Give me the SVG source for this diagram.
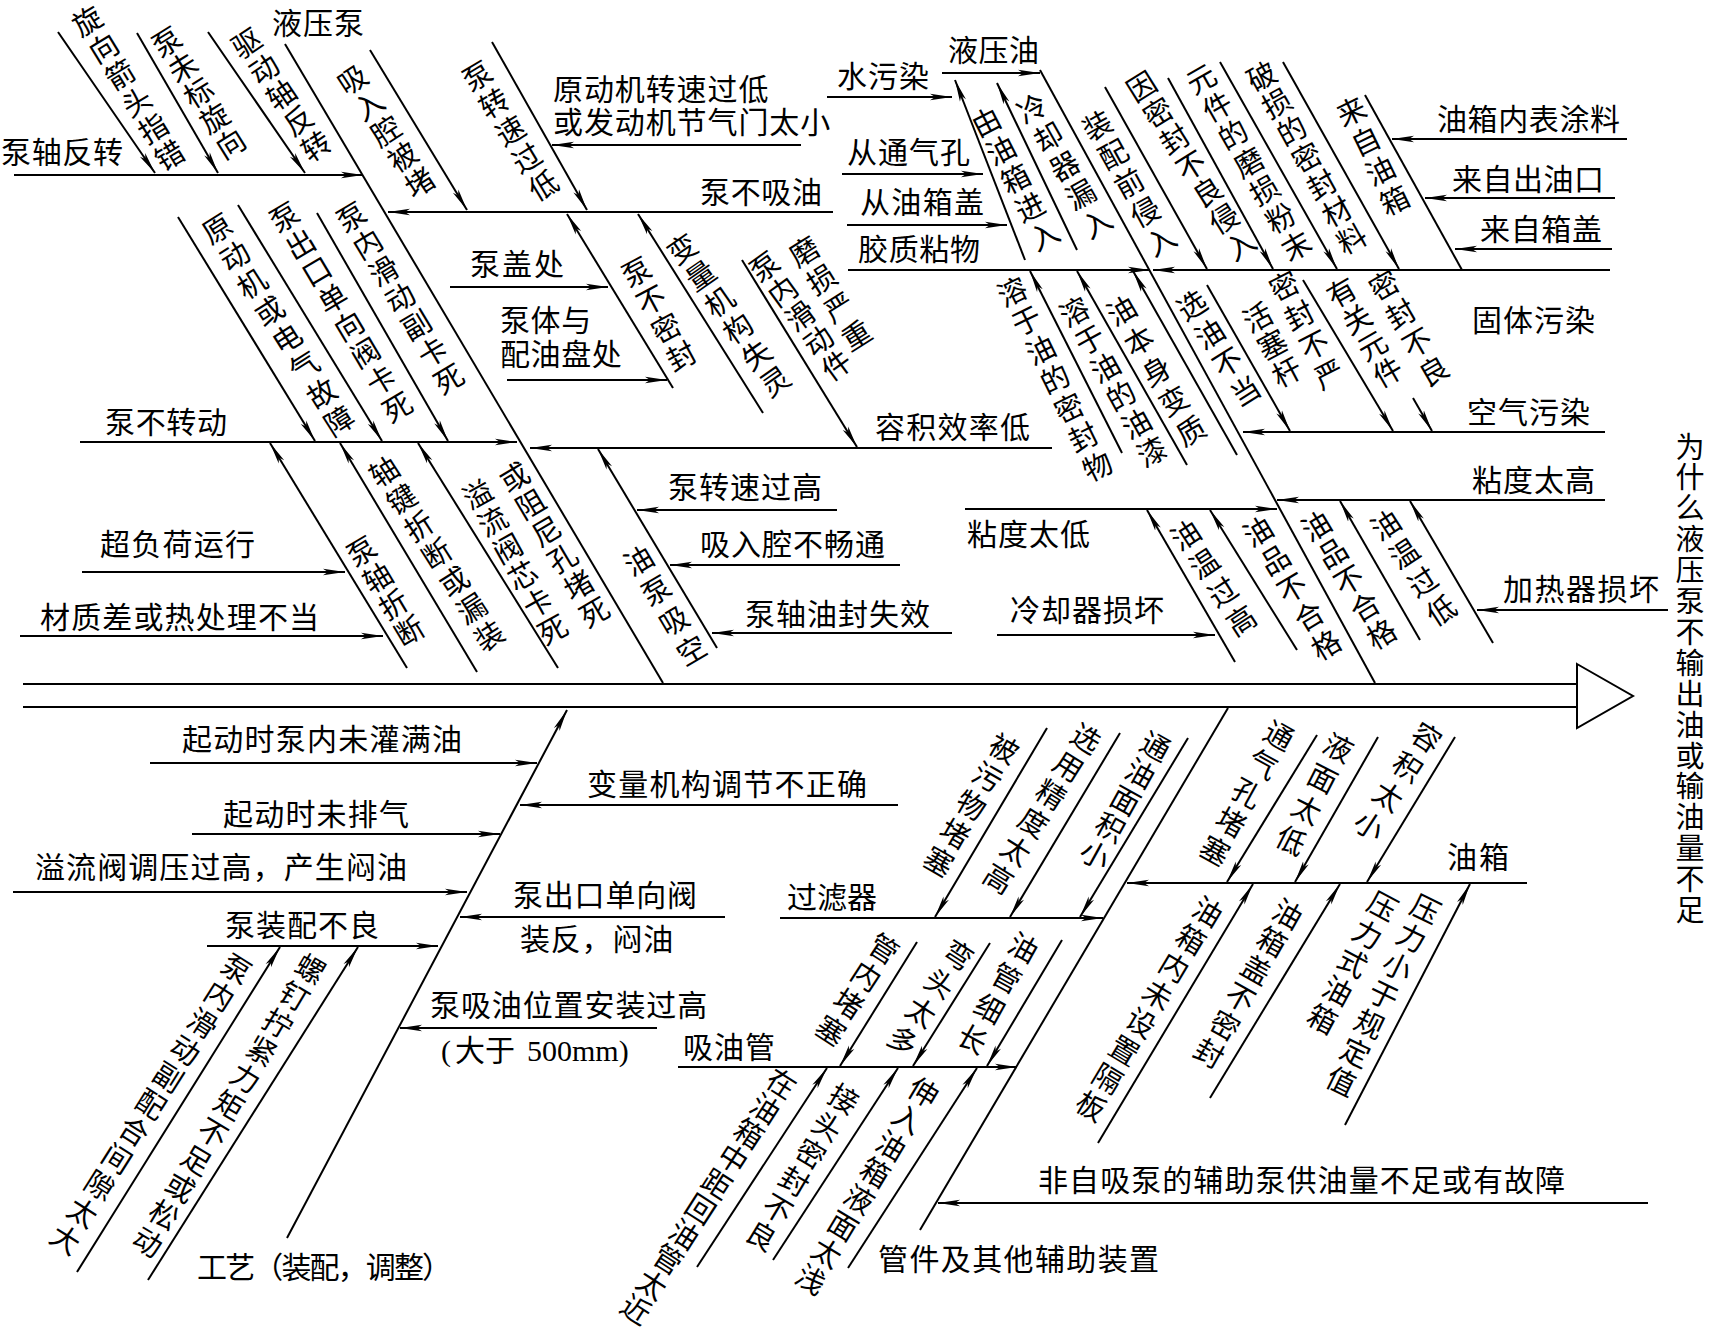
<svg xmlns="http://www.w3.org/2000/svg" width="1713" height="1340" viewBox="0 0 1713 1340">
<style>
.t{font-family:"Noto Sans CJK SC","Noto Sans CJK JP",sans-serif;font-size:30px;fill:#000}
.v{font-family:"Noto Sans CJK SC","Noto Sans CJK JP",sans-serif;font-size:29px;fill:#000;writing-mode:vertical-rl}
.l{stroke:#000;stroke-width:2;fill:none}
.a{stroke:#000;stroke-width:2;fill:none;marker-end:url(#ah)}
</style>
<defs>
<marker id="ah" viewBox="0 0 22 8" refX="22" refY="4" markerWidth="22" markerHeight="8" markerUnits="userSpaceOnUse" orient="auto"><path d="M0,0.8 L22,4 L0,7.2 L5,4 z" fill="#000"/></marker>
</defs>
<rect width="1713" height="1340" fill="#fff"/>
<g id="spine">
<line class="l" x1="23" y1="684" x2="1577" y2="684" stroke-width="2.5"/>
<line class="l" x1="23" y1="707" x2="1577" y2="707" stroke-width="2.5"/>
<polygon points="1577,664 1633,696 1577,728" fill="#fff" stroke="#000" stroke-width="2"/>
</g>
<g id="connectors">
<line class="l" x1="285" y1="44" x2="663" y2="683"/>
<line class="l" x1="1040" y1="70" x2="1375" y2="683"/>
<line class="a" x1="287" y1="1238" x2="567" y2="710"/>
<line class="l" x1="920" y1="1230" x2="1228" y2="708"/>
<line class="a" x1="14" y1="175" x2="363" y2="175"/>
<line class="a" x1="833" y1="212" x2="388" y2="212"/>
<line class="a" x1="801" y1="145" x2="552" y2="145"/>
<line class="a" x1="450" y1="287" x2="608" y2="287"/>
<line class="a" x1="507" y1="380" x2="667" y2="380"/>
<line class="a" x1="80" y1="442" x2="517" y2="442"/>
<line class="a" x1="1052" y1="448" x2="530" y2="448"/>
<line class="a" x1="82" y1="572" x2="345" y2="572"/>
<line class="a" x1="20" y1="636" x2="383" y2="636"/>
<line class="a" x1="837" y1="510" x2="637" y2="510"/>
<line class="a" x1="900" y1="565" x2="670" y2="565"/>
<line class="a" x1="952" y1="633" x2="712" y2="633"/>
<line class="a" x1="827" y1="97" x2="952" y2="97"/>
<line class="a" x1="942" y1="73" x2="1040" y2="73"/>
<line class="a" x1="842" y1="174" x2="983" y2="174"/>
<line class="a" x1="847" y1="225" x2="1007" y2="225"/>
<line class="a" x1="848" y1="270" x2="1150" y2="270"/>
<line class="a" x1="1610" y1="270" x2="1153" y2="270"/>
<line class="a" x1="1627" y1="139" x2="1392" y2="139"/>
<line class="a" x1="1615" y1="198" x2="1425" y2="198"/>
<line class="a" x1="1612" y1="249" x2="1455" y2="249"/>
<line class="a" x1="1605" y1="432" x2="1243" y2="432"/>
<line class="a" x1="1605" y1="500" x2="1277" y2="500"/>
<line class="a" x1="965" y1="509" x2="1277" y2="509"/>
<line class="a" x1="1668" y1="610" x2="1477" y2="610"/>
<line class="a" x1="997" y1="635" x2="1215" y2="635"/>
<line class="a" x1="150" y1="763" x2="537" y2="763"/>
<line class="a" x1="898" y1="805" x2="520" y2="805"/>
<line class="a" x1="192" y1="834" x2="500" y2="834"/>
<line class="a" x1="13" y1="892" x2="467" y2="892"/>
<line class="a" x1="207" y1="946" x2="438" y2="946"/>
<line class="a" x1="725" y1="917" x2="460" y2="917"/>
<line class="a" x1="657" y1="1028" x2="400" y2="1028"/>
<line class="a" x1="780" y1="918" x2="1103" y2="918"/>
<line class="a" x1="678" y1="1067" x2="1017" y2="1067"/>
<line class="a" x1="1648" y1="1203" x2="938" y2="1203"/>
<line class="a" x1="1527" y1="883" x2="1127" y2="883"/>
<line class="a" x1="58" y1="32" x2="155" y2="173"/>
<line class="a" x1="137" y1="33" x2="218" y2="173"/>
<line class="a" x1="208" y1="32" x2="305" y2="173"/>
<line class="a" x1="370" y1="50" x2="467" y2="210"/>
<line class="a" x1="492" y1="42" x2="587" y2="210"/>
<line class="a" x1="673" y1="388" x2="567" y2="214"/>
<line class="a" x1="763" y1="413" x2="638" y2="214"/>
<line class="a" x1="742" y1="260" x2="857" y2="447"/>
<line class="a" x1="178" y1="217" x2="315" y2="441"/>
<line class="a" x1="238" y1="205" x2="382" y2="441"/>
<line class="a" x1="317" y1="213" x2="448" y2="441"/>
<line class="a" x1="407" y1="668" x2="270" y2="443"/>
<line class="a" x1="477" y1="672" x2="340" y2="443"/>
<line class="a" x1="558" y1="668" x2="418" y2="443"/>
<line class="a" x1="717" y1="648" x2="598" y2="449"/>
<line class="a" x1="1025" y1="260" x2="955" y2="80"/>
<line class="a" x1="1077" y1="250" x2="997" y2="83"/>
<line class="a" x1="1105" y1="87" x2="1207" y2="269"/>
<line class="a" x1="1168" y1="78" x2="1273" y2="269"/>
<line class="a" x1="1220" y1="62" x2="1337" y2="269"/>
<line class="a" x1="1283" y1="62" x2="1399" y2="269"/>
<line class="l" x1="1365" y1="95" x2="1462" y2="270"/>
<line class="a" x1="1122" y1="453" x2="1030" y2="271"/>
<line class="a" x1="1187" y1="465" x2="1077" y2="271"/>
<line class="a" x1="1237" y1="455" x2="1133" y2="271"/>
<line class="a" x1="1207" y1="285" x2="1290" y2="431"/>
<line class="a" x1="1303" y1="280" x2="1393" y2="431"/>
<line class="a" x1="1413" y1="398" x2="1432" y2="431"/>
<line class="a" x1="1235" y1="662" x2="1147" y2="510"/>
<line class="a" x1="1297" y1="650" x2="1210" y2="510"/>
<line class="a" x1="1420" y1="640" x2="1340" y2="501"/>
<line class="a" x1="1493" y1="643" x2="1410" y2="501"/>
<line class="a" x1="77" y1="1272" x2="280" y2="947"/>
<line class="a" x1="148" y1="1280" x2="358" y2="947"/>
<line class="a" x1="1047" y1="728" x2="935" y2="917"/>
<line class="a" x1="1120" y1="733" x2="1010" y2="917"/>
<line class="a" x1="1188" y1="738" x2="1080" y2="917"/>
<line class="a" x1="917" y1="942" x2="840" y2="1066"/>
<line class="a" x1="990" y1="943" x2="913" y2="1066"/>
<line class="a" x1="1062" y1="940" x2="987" y2="1066"/>
<line class="a" x1="697" y1="1267" x2="827" y2="1068"/>
<line class="a" x1="773" y1="1260" x2="898" y2="1068"/>
<line class="a" x1="848" y1="1268" x2="977" y2="1068"/>
<line class="a" x1="1317" y1="735" x2="1227" y2="882"/>
<line class="a" x1="1378" y1="737" x2="1295" y2="882"/>
<line class="a" x1="1455" y1="737" x2="1367" y2="882"/>
<line class="a" x1="1098" y1="1143" x2="1253" y2="884"/>
<line class="a" x1="1210" y1="1098" x2="1340" y2="884"/>
<line class="a" x1="1345" y1="1125" x2="1470" y2="884"/>
</g>
<g id="title"><text class="v" x="1690" y="432" letter-spacing="1.9">为什么液压泵不输出油或输油量不足</text></g>
<g id="h-labels">
<g id="n1"><text class="t" x="272" y="34" textLength="92" lengthAdjust="spacing">液压泵</text></g>
<g id="n2"><text class="t" x="1" y="163" textLength="122" lengthAdjust="spacing">泵轴反转</text></g>
<g id="n3"><text class="t" letter-spacing="0.9"><tspan x="553" y="100">原动机转速过低</tspan><tspan x="553" y="133">或发动机节气门太小</tspan></text></g>
<g id="n5"><text class="t" x="700" y="203" textLength="122" lengthAdjust="spacing">泵不吸油</text></g>
<g id="n6"><text class="t" x="470" y="275" textLength="94" lengthAdjust="spacing">泵盖处</text></g>
<g id="n7"><text class="t" letter-spacing="0.6"><tspan x="500" y="331">泵体与</tspan><tspan x="500" y="365">配油盘处</tspan></text></g>
<g id="n9"><text class="t" x="105" y="433" textLength="122" lengthAdjust="spacing">泵不转动</text></g>
<g id="n10"><text class="t" x="875" y="438" textLength="155" lengthAdjust="spacing">容积效率低</text></g>
<g id="n11"><text class="t" x="837" y="87" textLength="92" lengthAdjust="spacing">水污染</text></g>
<g id="n12"><text class="t" x="948" y="61" textLength="91" lengthAdjust="spacing">液压油</text></g>
<g id="n13"><text class="t" x="847" y="163" textLength="123" lengthAdjust="spacing">从通气孔</text></g>
<g id="n14"><text class="t" x="860" y="213" textLength="124" lengthAdjust="spacing">从油箱盖</text></g>
<g id="n15"><text class="t" x="858" y="260" textLength="122" lengthAdjust="spacing">胶质粘物</text></g>
<g id="n16"><text class="t" x="1437" y="130" textLength="183" lengthAdjust="spacing">油箱内表涂料</text></g>
<g id="n17"><text class="t" x="1452" y="190" textLength="152" lengthAdjust="spacing">来自出油口</text></g>
<g id="n18"><text class="t" x="1480" y="240" textLength="122" lengthAdjust="spacing">来自箱盖</text></g>
<g id="n19"><text class="t" x="1472" y="331" textLength="123" lengthAdjust="spacing">固体污染</text></g>
<g id="n20"><text class="t" x="1467" y="423" textLength="123" lengthAdjust="spacing">空气污染</text></g>
<g id="n21"><text class="t" x="1472" y="491" textLength="123" lengthAdjust="spacing">粘度太高</text></g>
<g id="n22"><text class="t" x="967" y="545" textLength="123" lengthAdjust="spacing">粘度太低</text></g>
<g id="n23"><text class="t" x="1503" y="600" textLength="156" lengthAdjust="spacing">加热器损坏</text></g>
<g id="n24"><text class="t" x="1010" y="621" textLength="154" lengthAdjust="spacing">冷却器损坏</text></g>
<g id="n25"><text class="t" x="668" y="498" textLength="154" lengthAdjust="spacing">泵转速过高</text></g>
<g id="n26"><text class="t" x="700" y="555" textLength="185" lengthAdjust="spacing">吸入腔不畅通</text></g>
<g id="n27"><text class="t" x="745" y="625" textLength="185" lengthAdjust="spacing">泵轴油封失效</text></g>
<g id="n28"><text class="t" x="100" y="555" textLength="155" lengthAdjust="spacing">超负荷运行</text></g>
<g id="n29"><text class="t" x="40" y="628" textLength="279" lengthAdjust="spacing">材质差或热处理不当</text></g>
<g id="n30"><text class="t" x="182" y="750" textLength="280" lengthAdjust="spacing">起动时泵内未灌满油</text></g>
<g id="n31"><text class="t" x="587" y="795" textLength="280" lengthAdjust="spacing">变量机构调节不正确</text></g>
<g id="n32"><text class="t" x="223" y="825" textLength="186" lengthAdjust="spacing">起动时未排气</text></g>
<g id="n33"><text class="t" x="35" y="878" textLength="372" lengthAdjust="spacing">溢流阀调压过高，产生闷油</text></g>
<g id="n34"><text class="t" x="225" y="936" textLength="154" lengthAdjust="spacing">泵装配不良</text></g>
<g id="n35"><text class="t" letter-spacing="0.8"><tspan x="513" y="906">泵出口单向阀</tspan><tspan x="520" y="950">装反，闷油</tspan></text></g>
<g id="n37"><text class="t" x="787" y="908" textLength="90" lengthAdjust="spacing">过滤器</text></g>
<g id="n38"><text class="t" x="1447" y="868" textLength="62" lengthAdjust="spacing">油箱</text></g>
<g id="n39"><text class="t"><tspan x="430" y="1016" letter-spacing="0.9">泵吸油位置安装过高</tspan><tspan x="441" y="1061" font-family="Liberation Serif">(</tspan><tspan x="455" y="1061">大于</tspan><tspan x="527" y="1061" font-family="Liberation Serif">500mm)</tspan></text></g>
<g id="n41"><text class="t" x="683" y="1058" textLength="92" lengthAdjust="spacing">吸油管</text></g>
<g id="n42"><text class="t" x="1038" y="1191" textLength="527" lengthAdjust="spacing">非自吸泵的辅助泵供油量不足或有故障</text></g>
<g id="n43"><text class="t" x="878" y="1270" textLength="281" lengthAdjust="spacing">管件及其他辅助装置</text></g>
<g id="n44"><text class="t" x="197" y="1278" textLength="255" lengthAdjust="spacing">工艺（装配，调整）</text></g>
</g>
<g id="s-labels">
<g id="s1"><text class="v" transform="translate(79.6,8.5) rotate(-31.5)" letter-spacing="2.5">旋向箭头指错</text></g>
<g id="s2"><text class="v" transform="translate(159.1,29.3) rotate(-32)" letter-spacing="1">泵未标旋向</text></g>
<g id="s3"><text class="v" transform="translate(238.3,31.1) rotate(-34)" letter-spacing="2">驱动轴反转</text></g>
<g id="s4"><text class="v" transform="translate(344.6,67.1) rotate(-33)" letter-spacing="1.7">吸入腔被堵</text></g>
<g id="s5"><text class="v" transform="translate(469.8,63.3) rotate(-31)" letter-spacing="3">泵转速过低</text></g>
<g id="s6"><text class="v" transform="translate(629.5,259) rotate(-28)" letter-spacing="2.8">泵不密封</text></g>
<g id="s7"><text class="v" transform="translate(673.7,236.7) rotate(-35)" letter-spacing="3.4">变量机构失灵</text></g>
<g id="s8"><text class="v" transform="translate(756,254.7) rotate(-36)" letter-spacing="1.5">泵内滑动件</text></g>
<g id="s9"><text class="v" transform="translate(796.3,239) rotate(-32)" letter-spacing="4">磨损严重</text></g>
<g id="s10"><text class="v" transform="translate(209.3,216.3) rotate(-32.4)" letter-spacing="3.5">原动机或电气故障</text></g>
<g id="s11"><text class="v" transform="translate(276.9,204.4) rotate(-30.7)" letter-spacing="2.6">泵出口单向阀卡死</text></g>
<g id="s12"><text class="v" transform="translate(343.9,204.5) rotate(-31)" letter-spacing="2.5">泵内滑动副卡死</text></g>
<g id="s13"><text class="v" transform="translate(354,538.7) rotate(-31)" letter-spacing="2">泵轴折断</text></g>
<g id="s14"><text class="v" transform="translate(376.2,459.3) rotate(-32.6)" letter-spacing="3.5">轴键折断或漏装</text></g>
<g id="s15"><text class="v" transform="translate(470.5,481.4) rotate(-29)" letter-spacing="2">溢流阀芯卡死</text></g>
<g id="s16"><text class="v" transform="translate(507,464.5) rotate(-30.6)" letter-spacing="2.4">或阻尼孔堵死</text></g>
<g id="s17"><text class="v" transform="translate(631.2,548) rotate(-30.5)" letter-spacing="5.7">油泵吸空</text></g>
<g id="s18"><text class="v" transform="translate(979.7,108.7) rotate(-27)" letter-spacing="3">由油箱进入</text></g>
<g id="s19"><text class="v" transform="translate(1024.9,95.6) rotate(-29.5)" letter-spacing="4">冷却器漏入</text></g>
<g id="s20"><text class="v" transform="translate(1090,112.6) rotate(-29)" letter-spacing="4">装配前侵入</text></g>
<g id="s21"><text class="v" transform="translate(1133.7,73.8) rotate(-32)" letter-spacing="2.2">因密封不良侵入</text></g>
<g id="s22"><text class="v" transform="translate(1194.1,66.1) rotate(-29.6)" letter-spacing="3">元件的磨损粉末</text></g>
<g id="s23"><text class="v" transform="translate(1254.5,63.4) rotate(-29)" letter-spacing="2">破损的密封材料</text></g>
<g id="s24"><text class="v" transform="translate(1344.8,98.2) rotate(-26)" letter-spacing="4">来自油箱</text></g>
<g id="s25"><text class="v" transform="translate(1005.9,278.4) rotate(-26)" letter-spacing="3.4">溶于油的密封物</text></g>
<g id="s26"><text class="v" transform="translate(1067.2,299) rotate(-29)" letter-spacing="3">溶于油的油漆</text></g>
<g id="s27"><text class="v" transform="translate(1114.3,298) rotate(-30)" letter-spacing="5.7">油本身变质</text></g>
<g id="s28"><text class="v" transform="translate(1184,292.7) rotate(-32)" letter-spacing="4.8">选油不当</text></g>
<g id="s29"><text class="v" transform="translate(1250.7,304.3) rotate(-28)" letter-spacing="2">活塞杆</text></g>
<g id="s30"><text class="v" transform="translate(1277.6,273) rotate(-27)" letter-spacing="4">密封不严</text></g>
<g id="s31"><text class="v" transform="translate(1334.3,279.7) rotate(-30)" letter-spacing="1.7">有关元件</text></g>
<g id="s32"><text class="v" transform="translate(1376.75,272.7) rotate(-30)" letter-spacing="4">密封不良</text></g>
<g id="s33"><text class="v" transform="translate(1177.7,522.7) rotate(-33)" letter-spacing="5">油温过高</text></g>
<g id="s34"><text class="v" transform="translate(1250.5,518.9) rotate(-31)" letter-spacing="4">油品不合格</text></g>
<g id="s35"><text class="v" transform="translate(1308.9,513.5) rotate(-31)" letter-spacing="2.5">油品不合格</text></g>
<g id="s36"><text class="v" transform="translate(1377.7,512.7) rotate(-33)" letter-spacing="5">油温过低</text></g>
<g id="s37"><text class="v" transform="translate(244.5,956.5) rotate(32.3)" letter-spacing="3">泵内滑动副配合间隙太大</text></g>
<g id="s38"><text class="v" transform="translate(318.1,956.3) rotate(30.8)" letter-spacing="2.8">螺钉拧紧力矩不足或松动</text></g>
<g id="s39"><text class="v" transform="translate(1011.2,735.9) rotate(30)" letter-spacing="3.6">被污物堵塞</text></g>
<g id="s40"><text class="v" transform="translate(1093.7,726) rotate(32)" letter-spacing="4">选用精度太高</text></g>
<g id="s41"><text class="v" transform="translate(1162.5,733.4) rotate(29)" letter-spacing="2">通油面积小</text></g>
<g id="s42"><text class="v" transform="translate(891.9,936.4) rotate(33)" letter-spacing="3.5">管内堵塞</text></g>
<g id="s43"><text class="v" transform="translate(966.3,942.7) rotate(33)" letter-spacing="5">弯头太多</text></g>
<g id="s44"><text class="v" transform="translate(1030.5,934.7) rotate(29)" letter-spacing="6">油管细长</text></g>
<g id="s45"><text class="v" transform="translate(789.5,1071) rotate(32.8)" letter-spacing="0.9">在油箱中距回油管太近</text></g>
<g id="s46"><text class="v" transform="translate(851.2,1086.3) rotate(31)" letter-spacing="3">接头密封不良</text></g>
<g id="s47"><text class="v" transform="translate(931,1079.6) rotate(31)" letter-spacing="2.2">伸入油箱液面太浅</text></g>
<g id="s48"><text class="v" transform="translate(1286,722.6) rotate(29)" letter-spacing="4">通气孔堵塞</text></g>
<g id="s49"><text class="v" transform="translate(1344.9,734.5) rotate(27)" letter-spacing="5.7">液面太低</text></g>
<g id="s50"><text class="v" transform="translate(1434.5,725.3) rotate(33)" letter-spacing="6">容积太小</text></g>
<g id="s51"><text class="v" transform="translate(1215.3,899.1) rotate(31)" letter-spacing="3.4">油箱内未设置隔板</text></g>
<g id="s52"><text class="v" transform="translate(1294.9,901.1) rotate(29.4)" letter-spacing="3">油箱盖不密封</text></g>
<g id="s53"><text class="v" transform="translate(1389.5,892.9) rotate(28)" letter-spacing="3">压力式油箱</text></g>
<g id="s54"><text class="v" transform="translate(1432,895.6) rotate(26)" letter-spacing="3">压力小于规定值</text></g>
</g>
</svg>
